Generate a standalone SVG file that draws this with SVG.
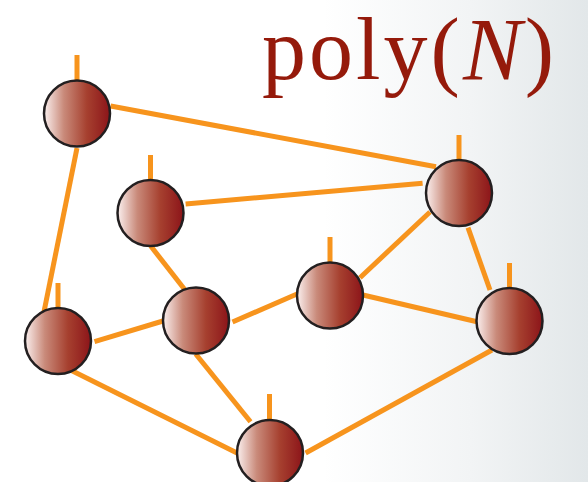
<svg xmlns="http://www.w3.org/2000/svg" width="588" height="482" viewBox="0 0 588 482">
  <defs>
    <linearGradient id="bg" x1="0" y1="0" x2="588" y2="0" gradientUnits="userSpaceOnUse">
      <stop offset="0" stop-color="#ffffff"/>
      <stop offset="0.55" stop-color="#ffffff"/>
      <stop offset="0.8" stop-color="#f2f4f5"/>
      <stop offset="1" stop-color="#e2e7e9"/>
    </linearGradient>
    <radialGradient id="glow" cx="0" cy="0.5" r="0.5">
      <stop offset="0" stop-color="#f2c8c4" stop-opacity="0.8"/>
      <stop offset="0.6" stop-color="#f7dcda" stop-opacity="0.4"/>
      <stop offset="1" stop-color="#ffffff" stop-opacity="0"/>
    </radialGradient>
    <linearGradient id="ball" x1="0" y1="0" x2="1" y2="0">
      <stop offset="0" stop-color="#fbf0ef"/>
      <stop offset="0.3" stop-color="#c98a7a"/>
      <stop offset="0.65" stop-color="#a6402f"/>
      <stop offset="1" stop-color="#8c1419"/>
    </linearGradient>
  </defs>
  <style>
    .edge { stroke: #f7941d; stroke-width: 5; stroke-linecap: butt; fill: none; }
    .tick { stroke: #f7941d; stroke-width: 5; }
    .node { fill: url(#ball); stroke: #231f20; stroke-width: 2.5; }
    .title { font-family: "Liberation Serif", "Times New Roman", serif; font-size: 88px; fill: #951a0b; }
  </style>
  <rect x="0" y="0" width="588" height="482" fill="url(#bg)"/>
  <ellipse cx="-6" cy="40" rx="22" ry="60" fill="url(#glow)"/>

  <g id="connectors">
    <line class="edge" x1="110.6" y1="106" x2="436" y2="166.7"/>
    <line class="edge" x1="77" y1="148" x2="44" y2="311.7"/>
    <line class="edge" x1="185.6" y1="204" x2="422.6" y2="183.3"/>
    <line class="edge" x1="150.7" y1="246" x2="184.5" y2="289.3"/>
    <line class="edge" x1="430" y1="212" x2="360" y2="277.7"/>
    <line class="edge" x1="468" y1="227.7" x2="490" y2="290"/>
    <line class="edge" x1="297" y1="294" x2="232.5" y2="322"/>
    <line class="edge" x1="363" y1="295" x2="477" y2="321.7"/>
    <line class="edge" x1="94.5" y1="341.7" x2="163" y2="321"/>
    <line class="edge" x1="72" y1="370.7" x2="237" y2="453"/>
    <line class="edge" x1="195.7" y1="354" x2="250.5" y2="421.7"/>
    <line class="edge" x1="492" y1="350" x2="305.6" y2="453"/>
  </g>

  <g id="nodeA"><line class="tick" x1="77" y1="55" x2="77" y2="80"/><circle class="node" cx="77" cy="113.5" r="33"/></g>
  <g id="nodeB"><line class="tick" x1="150.5" y1="155" x2="150.5" y2="180"/><circle class="node" cx="150.5" cy="213" r="33"/></g>
  <g id="nodeC"><line class="tick" x1="459" y1="135" x2="459" y2="160"/><circle class="node" cx="459" cy="193" r="33"/></g>
  <g id="nodeD"><line class="tick" x1="330" y1="237" x2="330" y2="262"/><circle class="node" cx="330" cy="295.5" r="33"/></g>
  <g id="nodeE"><line class="tick" x1="58" y1="283" x2="58" y2="308"/><circle class="node" cx="58" cy="341" r="33"/></g>
  <g id="nodeF"><circle class="node" cx="196" cy="320.5" r="33"/></g>
  <g id="nodeG"><line class="tick" x1="509.5" y1="263" x2="509.5" y2="288"/><circle class="node" cx="509.5" cy="321" r="33"/></g>
  <g id="nodeH"><line class="tick" x1="269.5" y1="394" x2="269.5" y2="420"/><circle class="node" cx="270" cy="453" r="33"/></g>

  <text class="title" x="262" y="78.5" textLength="292" lengthAdjust="spacing">poly(<tspan font-style="italic">N</tspan>)</text>
</svg>
